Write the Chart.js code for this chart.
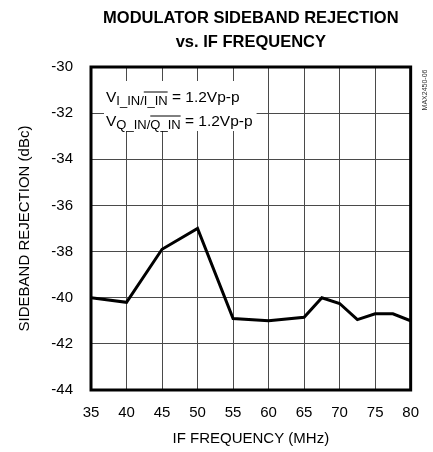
<!DOCTYPE html>
<html><head><meta charset="utf-8">
<script src="https://cdn.jsdelivr.net/npm/chart.js@4"></script>
<style>html,body{margin:0;padding:0;background:#fff}</style>
</head><body>
<canvas id="c" width="433" height="452" style="width:433px;height:452px;display:block"></canvas>
<script>
const titleLines = ['MODULATOR SIDEBAND REJECTION', 'vs. IF FREQUENCY'];
const xAxisLabel = 'IF FREQUENCY (MHz)';
const yAxisLabel = 'SIDEBAND REJECTION (dBc)';
const figCode = 'MAX2450-06';
const freqMHz = [35, 40, 45, 50, 55, 60, 65, 67.5, 70, 72.5, 75, 77.5, 80];
const rejectionDBc = [-40.0, -40.2, -37.9, -37.0, -40.9, -41.0, -40.85, -40.0, -40.25, -40.95, -40.7, -40.7, -41.0];
const xTicks = [35, 40, 45, 50, 55, 60, 65, 70, 75, 80];
const yTicks = [-44, -42, -40, -38, -36, -34, -32, -30];
const noteLines = [
  [['V', 'main'], ['I_IN/', 'sub'], ['I_IN', 'subOver'], [' = 1.2Vp-p', 'main']],
  [['V', 'main'], ['Q_IN/', 'sub'], ['Q_IN', 'subOver'], [' = 1.2Vp-p', 'main']]
];

const NARROW = "'Liberation Sans Narrow', 'Arial Narrow', 'Liberation Sans', sans-serif";

const points = freqMHz.map((f, i) => ({ x: f, y: rejectionDBc[i] }));

const decor = {
  id: 'decor',
  beforeDatasetsDraw(chart) {
    const { ctx, chartArea: a } = chart;
    ctx.save();
    const x0 = a.left + 15;
    const base = [a.top + 35, a.top + 59];
    const fontFor = k => k === 'main' ? `15.5px ${NARROW}` : `13px ${NARROW}`;
    let maxW = 0;
    noteLines.forEach(line => {
      let w = 0;
      line.forEach(([t, k]) => { ctx.font = fontFor(k); w += ctx.measureText(t).width; });
      maxW = Math.max(maxW, w);
    });
    ctx.fillStyle = '#fff';
    ctx.fillRect(x0 - 2, a.top + 14, maxW + 6, 50);
    ctx.fillStyle = '#000';
    ctx.strokeStyle = '#000';
    ctx.textBaseline = 'alphabetic';
    ctx.textAlign = 'left';
    noteLines.forEach((line, li) => {
      let x = x0;
      line.forEach(([t, k]) => {
        ctx.font = fontFor(k);
        const w = ctx.measureText(t).width;
        const y = k === 'main' ? base[li] : base[li] + 3;
        ctx.fillText(t, x, y);
        if (k === 'subOver') {
          ctx.lineWidth = 1;
          ctx.beginPath();
          ctx.moveTo(x, y - 13);
          ctx.lineTo(x + w, y - 13);
          ctx.stroke();
        }
        x += w;
      });
    });
    ctx.restore();
  },
  afterDatasetsDraw(chart) {
    const { ctx, chartArea: a } = chart;
    ctx.save();
    ctx.strokeStyle = '#000';
    ctx.lineWidth = 3;
    ctx.strokeRect(a.left, a.top, a.right - a.left, a.bottom - a.top);
    ctx.translate(425, 90);
    ctx.rotate(-Math.PI / 2);
    ctx.font = `7px ${NARROW}`;
    ctx.fillStyle = '#333';
    ctx.textAlign = 'center';
    ctx.textBaseline = 'middle';
    ctx.fillText(figCode, 0, 0);
    ctx.restore();
  }
};

new Chart(document.getElementById('c'), {
  type: 'scatter',
  data: {
    datasets: [{
      data: points,
      showLine: true,
      borderColor: '#000',
      borderWidth: 3,
      pointRadius: 0,
      tension: 0,
      fill: false
    }]
  },
  options: {
    responsive: false,
    animation: false,
    devicePixelRatio: 1,
    layout: { padding: { left: 0, right: 20, top: 0, bottom: 0 } },
    plugins: {
      legend: { display: false },
      tooltip: { enabled: false },
      title: {
        display: true,
        fullSize: false,
        text: titleLines,
        color: '#000',
        font: { family: NARROW, size: 16.5, weight: 'bold', lineHeight: 24 / 16.5 },
        padding: { top: 6, bottom: 13 }
      }
    },
    scales: {
      x: {
        type: 'linear',
        min: 35, max: 80,
        afterBuildTicks: s => { s.ticks = xTicks.map(v => ({ value: v })); },
        afterFit: s => { s.height = 62; },
        grid: { color: '#4a4a4a', lineWidth: 1, drawTicks: false },
        border: { display: false },
        ticks: { color: '#000', padding: 14, font: { family: NARROW, size: 15 }, maxRotation: 0 },
        title: { display: true, text: xAxisLabel, color: '#000', font: { family: NARROW, size: 15 }, padding: { top: 0, bottom: 4 } }
      },
      y: {
        type: 'linear',
        min: -44, max: -30,
        afterBuildTicks: s => { s.ticks = yTicks.map(v => ({ value: v })); },
        afterFit: s => { s.width = 91; },
        grid: { color: '#4a4a4a', lineWidth: 1, drawTicks: false },
        border: { display: false },
        ticks: { color: '#000', padding: 18, font: { family: NARROW, size: 15 } },
        title: { display: true, text: yAxisLabel, color: '#000', font: { family: NARROW, size: 15 }, padding: { top: 16, bottom: 0 } }
      }
    }
  },
  plugins: [decor]
});
</script>
</body></html>
